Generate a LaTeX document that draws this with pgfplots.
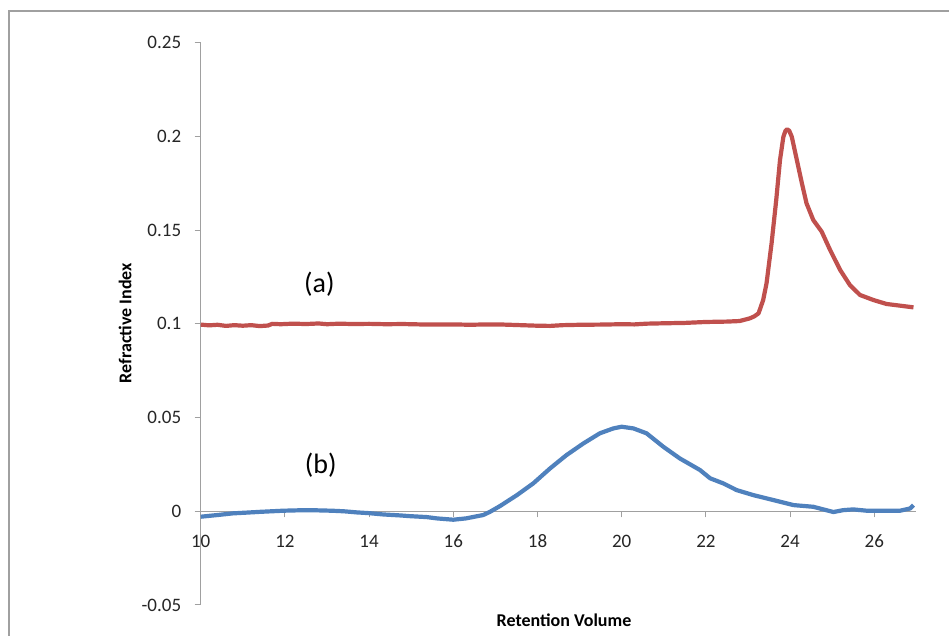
\documentclass[border=0pt]{standalone}
\usepackage{fontspec}
\setmainfont{Carlito}
\usepackage{pgfplots}
\pgfplotsset{compat=1.18}
\definecolor{serA}{HTML}{C0504D}
\definecolor{serB}{HTML}{4F81BD}
\definecolor{axgray}{HTML}{A0A0A0}
\begin{document}
\begin{tikzpicture}[x=1pt,y=1pt]
\useasboundingbox (0,0) rectangle (949,636);
\fill[white] (0,0) rectangle (949,636);
\draw[axgray, line width=1.5pt] (9,-2) -- (9,625) -- (951,625);
\begin{axis}[
  at={(200.7pt,31pt)}, anchor=south west,
  scale only axis, width=715.7pt, height=562.3pt,
  xmin=10, xmax=27, ymin=-0.05, ymax=0.25,
  axis x line=middle, axis y line=left,
  axis line style={axgray, line width=1pt, -},
  every tick/.style={axgray, line width=1pt},
  every x tick/.style={axgray, line width=1pt, yshift=-3pt},
  every y tick/.style={axgray, line width=1pt, xshift=-3pt},
  hide obscured x ticks=false, hide obscured y ticks=false,
  tick align=center, major tick length=6pt,
  xtick={10,12,14,16,18,20,22,24,26},
  ytick={-0.05,0,0.05,0.1,0.15,0.2,0.25},
  /pgf/number format/assume math mode=true,
  /pgf/number format/fixed,
  yticklabels={-0.05,0,0.05,0.1,0.15,0.2,0.25},
  ticklabel style={font=\fontsize{19}{21}\selectfont, text=black!85},
  xticklabel style={yshift=-17pt, text depth=0pt},
  yticklabel style={xshift=-13pt},
  clip=false,
]
\addplot[serA, line width=4.2pt, line join=round] coordinates {
(10.0,0.0996) (10.2,0.0992) (10.4,0.0995) (10.6,0.0989) (10.8,0.0993)
(11.0,0.0990) (11.2,0.0993) (11.4,0.0988) (11.6,0.0991) (11.7,0.1000)
(11.9,0.0998) (12.2,0.1001) (12.5,0.0999) (12.8,0.1002) (13.0,0.0998)
(13.3,0.1001) (13.6,0.0999) (14.0,0.1000) (14.4,0.0998) (14.8,0.0999)
(15.2,0.0997) (15.6,0.0996) (16.0,0.0997) (16.4,0.0995) (16.8,0.0997)
(17.2,0.0996) (17.6,0.0993) (18.0,0.0990) (18.3,0.0989) (18.6,0.0993)
(19.0,0.0995) (19.5,0.0996) (20.0,0.0998) (20.3,0.0997) (20.6,0.1001)
(21.0,0.1003) (21.5,0.1005) (22.0,0.1010) (22.5,0.1012) (22.8,0.1015)
(23.04,0.1029) (23.15,0.1040) (23.25,0.1056) (23.36,0.1127) (23.44,0.1216)
(23.56,0.1430) (23.67,0.1660) (23.76,0.1874) (23.84,0.1998) (23.89,0.2030) (23.93,0.2038)
(23.98,0.2030) (24.04,0.1998) (24.16,0.1874) (24.28,0.1750) (24.39,0.1643) (24.55,0.1554)
(24.75,0.1492) (24.95,0.1394) (25.19,0.1287) (25.42,0.1207) (25.66,0.1154)
(25.98,0.1127) (26.29,0.1106) (26.61,0.1097) (26.93,0.1088)
};
\addplot[serB, line width=4.2pt, line join=round] coordinates {
(10.0,-0.0029) (10.4,-0.0020) (10.77,-0.0011) (11.1,-0.0007) (11.41,-0.0003)
(11.96,0.0003) (12.3,0.0005) (12.6,0.0006) (13.11,0.0003) (13.4,0.0000)
(13.71,-0.0006) (14.0,-0.0010) (14.34,-0.0017) (14.73,-0.0022) (14.97,-0.0026)
(15.37,-0.0031) (15.61,-0.0038) (16.0,-0.0045) (16.3,-0.0038) (16.71,-0.0020)
(16.87,-0.0003) (17.11,0.0028) (17.51,0.0086) (17.9,0.0149) (18.3,0.0229)
(18.69,0.0300) (19.09,0.0362) (19.48,0.0416) (19.8,0.0442) (20.0,0.0451)
(20.28,0.0442) (20.59,0.0416) (20.99,0.0344) (21.38,0.0282) (21.86,0.0220)
(22.1,0.0176) (22.41,0.0149) (22.73,0.0113) (23.13,0.0086) (23.6,0.0060)
(24.08,0.0033) (24.55,0.0024) (24.79,0.0010) (25.03,-0.0004) (25.26,0.0006)
(25.5,0.0010) (25.82,0.0003) (26.21,0.0003) (26.61,0.0003) (26.85,0.0015)
(26.93,0.0033)
};
\node[font=\fontsize{28}{30}\selectfont] at (axis cs:12.82,0.1212) {(a)};
\node[font=\fontsize{28}{30}\selectfont] at (axis cs:12.85,0.0247) {(b)};
\end{axis}
\node[font=\bfseries\fontsize{18}{20}\selectfont] at (564,16) {Retention Volume};
\node[font=\bfseries\fontsize{18}{20}\selectfont, rotate=90] at (125,313) {Refractive Index};
\end{tikzpicture}
\end{document}
